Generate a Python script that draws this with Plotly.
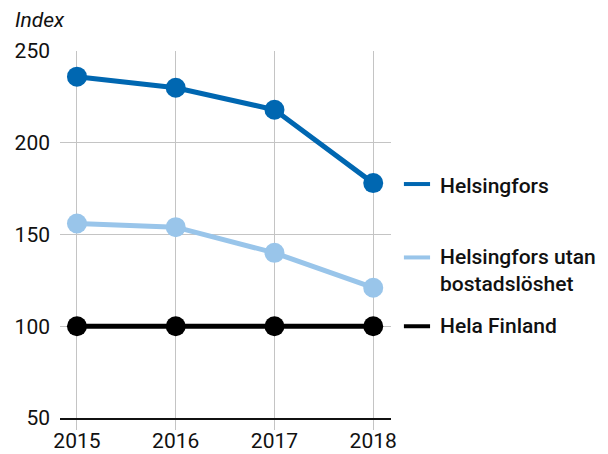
import plotly.graph_objects as go

years = [2015, 2016, 2017, 2018]
helsingfors = [236, 230, 218, 178]
helsingfors_utan = [156, 154, 140, 121]
hela_finland = [100, 100, 100, 100]

series_names = ["Helsingfors", "Helsingfors utan<br>bostadslöshet", "Hela Finland"]
series_values = [helsingfors, helsingfors_utan, hela_finland]
colors = ["#0067b1", "#99c5ea", "#000000"]
label_y = [176.5, 130.5, 100]
legend_line_y = [177.5, 137.5, 100]

FONT = "Roboto, Liberation Sans, Arial, sans-serif"

fig = go.Figure()
for name, vals, col in zip(series_names, series_values, colors):
    fig.add_trace(go.Scatter(
        x=years, y=vals, mode="lines+markers",
        line=dict(color=col, width=5),
        marker=dict(color=col, size=20),
        name=name, showlegend=False, cliponaxis=False,
    ))

for name, col, ly, lly in zip(series_names, colors, label_y, legend_line_y):
    fig.add_shape(type="line", xref="paper", yref="y",
                  x0=1.039, x1=1.118, y0=lly, y1=lly,
                  line=dict(color=col, width=4))
    fig.add_annotation(xref="paper", yref="y", x=1.142, y=ly,
                       text=name, showarrow=False, xanchor="left", yanchor="middle",
                       align="left",
                       font=dict(family=FONT, size=21, color="#111111", weight=500))

fig.add_annotation(xref="paper", yref="paper", x=-0.142, y=1.0845,
                   text="<i>Index</i>", showarrow=False, xanchor="left", yanchor="middle",
                   font=dict(family=FONT, size=21, color="#111111"))

fig.update_xaxes(
    range=[2014.828, 2018.18], tickvals=years, ticktext=[str(y) for y in years],
    showgrid=True, gridcolor="#c4c4c4", gridwidth=1,
    ticks="outside", ticklen=10, tickcolor="#c4c4c4", tickwidth=1,
    showline=True, linecolor="#111111", linewidth=2,
    zeroline=False, automargin=False, ticklabelstandoff=-7,
    tickfont=dict(family=FONT, size=21, color="#111111"),
)
fig.update_yaxes(
    range=[50, 250], tickvals=[50, 100, 150, 200, 250],
    showgrid=True, gridcolor="#c4c4c4", gridwidth=1,
    zeroline=False, showline=False, ticks="", ticklabelstandoff=9,
    automargin=False,
    tickfont=dict(family=FONT, size=21, color="#111111"),
)
fig.update_layout(
    width=600, height=446,
    margin=dict(l=52, r=217, t=43, b=36),
    paper_bgcolor="white", plot_bgcolor="white",
)
fig.write_html("out.html")
